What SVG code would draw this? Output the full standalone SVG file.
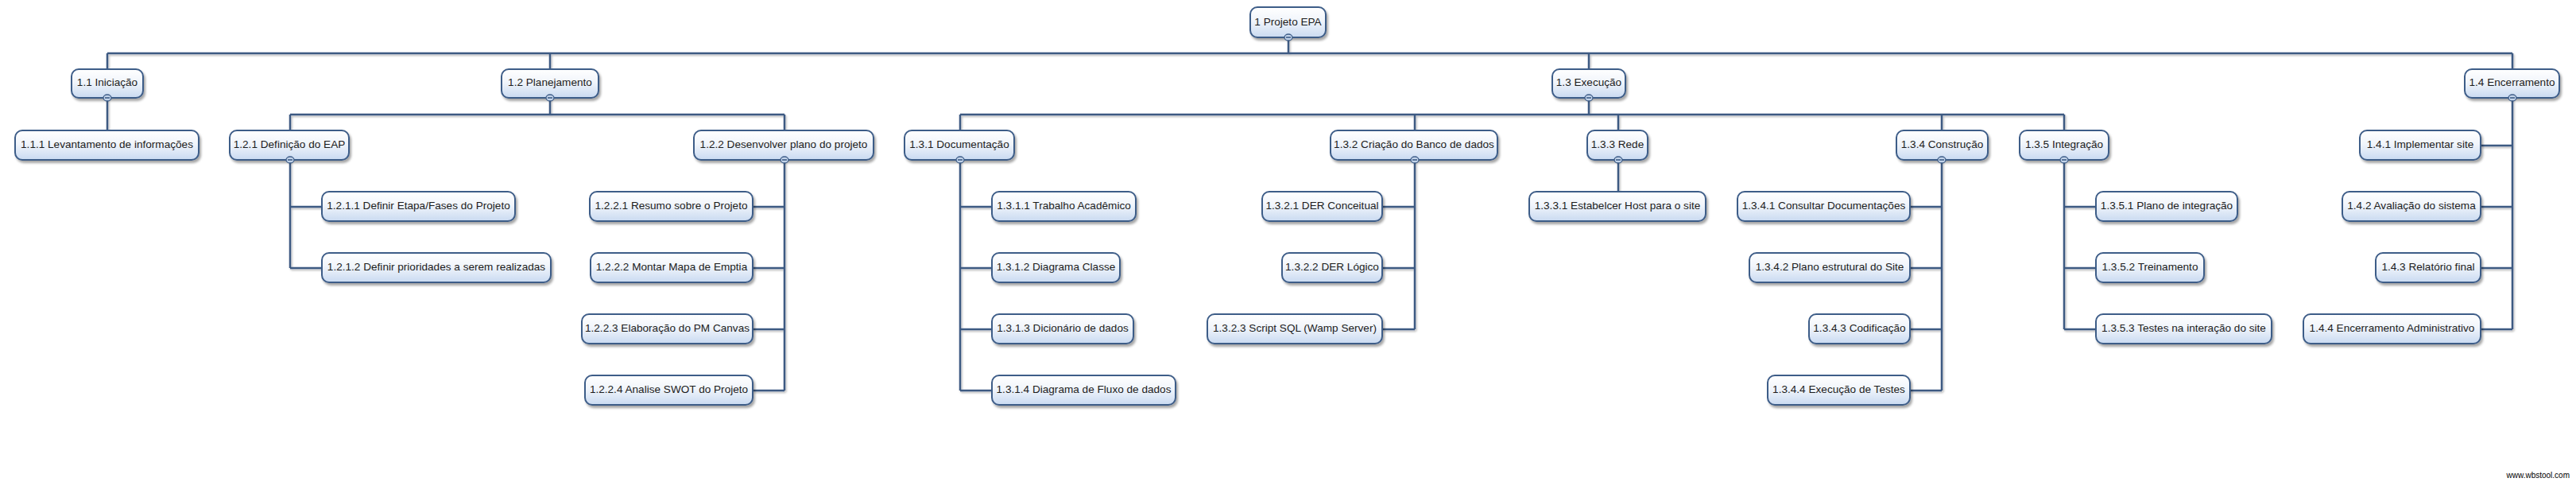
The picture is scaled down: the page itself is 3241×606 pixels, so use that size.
<svg xmlns="http://www.w3.org/2000/svg" width="3241" height="606" viewBox="0 0 3241 606">
<defs>
<linearGradient id="g" x1="0" y1="0" x2="0" y2="1">
<stop offset="0" stop-color="#ffffff"/>
<stop offset="0.45" stop-color="#f1f5fb"/>
<stop offset="1" stop-color="#c9daf1"/>
</linearGradient>
<filter id="sh" x="-10%" y="-30%" width="120%" height="170%">
<feDropShadow dx="2" dy="3" stdDeviation="1.5" flood-color="#000" flood-opacity="0.35"/>
</filter>
<filter id="lsh" x="-5%" y="-5%" width="110%" height="110%">
<feDropShadow dx="1.5" dy="2" stdDeviation="1" flood-color="#000" flood-opacity="0.25"/>
</filter>
</defs>
<style>
rect.b{fill:url(#g);stroke:#3e5d88;stroke-width:2;filter:url(#sh)}
text.t{font-family:"Liberation Sans",Arial,sans-serif;font-size:13.6px;fill:#1c1c1c;text-anchor:middle}
.c path{stroke:#3d5a82;stroke-width:2.5;fill:none}
ellipse.k{fill:#c3d4ea;stroke:#3e5d88;stroke-width:1.3}
path.m{stroke:#3e5d88;stroke-width:1.6}
text.w{font-family:"Liberation Sans",Arial,sans-serif;font-size:10px;fill:#000;text-anchor:end}
</style>
<rect width="3241" height="606" fill="#ffffff"/>
<g id="connectors" class="c" filter="url(#lsh)">
<path d="M1621 47V67M135 67H3161M135 67V87M692 67V87M1999 67V87M3161 67V87"/>
<path d="M135 123V164"/>
<path d="M692 123V144M365 144H987M365 144V164M987 144V164"/>
<path d="M365 201V337M365 260H405M365 337H405"/>
<path d="M987 201V491M947 260H987M947 337H987M947 414H987M947 491H987"/>
<path d="M1999 123V144M1208 144H2597M1208 144V164M1780 144V164M2036 144V164M2443 144V164M2597 144V164"/>
<path d="M1208 201V491M1208 260H1248M1208 337H1248M1208 414H1248M1208 491H1248"/>
<path d="M1780 201V414M1739 260H1780M1739 337H1780M1739 414H1780"/>
<path d="M2036 201V241"/>
<path d="M2443 201V491M2403 260H2443M2403 337H2443M2403 414H2443M2403 491H2443"/>
<path d="M2597 201V414M2597 260H2637M2597 337H2637M2597 414H2637"/>
<path d="M3161 123V414M3121 183H3161M3121 260H3161M3121 337H3161M3121 414H3161"/>
</g>
<g id="n1"><rect class="b" x="1573" y="9" width="95" height="38" rx="9"/><text class="t" x="1620.5" y="32">1 Projeto EPA</text><ellipse class="k" cx="1621" cy="47" rx="5" ry="4"/><path class="m" d="M1618 47H1624"/></g>
<g id="n1-1"><rect class="b" x="90" y="87" width="90" height="36" rx="9"/><text class="t" x="135" y="108">1.1 Iniciação</text><ellipse class="k" cx="135" cy="123" rx="5" ry="4"/><path class="m" d="M132 123H138"/></g>
<g id="n1-2"><rect class="b" x="631" y="87" width="122" height="36" rx="9"/><text class="t" x="692" y="108">1.2 Planejamento</text><ellipse class="k" cx="692" cy="123" rx="5" ry="4"/><path class="m" d="M689 123H695"/></g>
<g id="n1-3"><rect class="b" x="1953" y="87" width="92" height="36" rx="9"/><text class="t" x="1999" y="108">1.3 Execução</text><ellipse class="k" cx="1999" cy="123" rx="5" ry="4"/><path class="m" d="M1996 123H2002"/></g>
<g id="n1-4"><rect class="b" x="3101" y="87" width="119" height="36" rx="9"/><text class="t" x="3160.5" y="108">1.4 Encerramento</text><ellipse class="k" cx="3161" cy="123" rx="5" ry="4"/><path class="m" d="M3158 123H3164"/></g>
<g id="n1-1-1"><rect class="b" x="19" y="164" width="231" height="37" rx="9"/><text class="t" x="134.5" y="186">1.1.1 Levantamento de informações</text></g>
<g id="n1-2-1"><rect class="b" x="289" y="164" width="150" height="37" rx="9"/><text class="t" x="364" y="186">1.2.1 Definição do EAP</text><ellipse class="k" cx="365" cy="201" rx="5" ry="4"/><path class="m" d="M362 201H368"/></g>
<g id="n1-2-2"><rect class="b" x="873" y="164" width="226" height="37" rx="9"/><text class="t" x="986" y="186">1.2.2 Desenvolver plano do projeto</text><ellipse class="k" cx="987" cy="201" rx="5" ry="4"/><path class="m" d="M984 201H990"/></g>
<g id="n1-2-1-1"><rect class="b" x="405" y="241" width="243" height="37" rx="9"/><text class="t" x="526.5" y="263">1.2.1.1 Definir Etapa/Fases do Projeto</text></g>
<g id="n1-2-1-2"><rect class="b" x="405" y="318" width="288" height="37" rx="9"/><text class="t" x="549" y="340">1.2.1.2 Definir prioridades a serem realizadas</text></g>
<g id="n1-2-2-1"><rect class="b" x="742" y="241" width="205" height="37" rx="9"/><text class="t" x="844.5" y="263">1.2.2.1 Resumo sobre o Projeto</text></g>
<g id="n1-2-2-2"><rect class="b" x="743" y="318" width="204" height="37" rx="9"/><text class="t" x="845" y="340">1.2.2.2 Montar Mapa de Emptia</text></g>
<g id="n1-2-2-3"><rect class="b" x="732" y="395" width="215" height="37" rx="9"/><text class="t" x="839.5" y="417">1.2.2.3 Elaboração do PM Canvas</text></g>
<g id="n1-2-2-4"><rect class="b" x="736" y="472" width="211" height="37" rx="9"/><text class="t" x="841.5" y="494">1.2.2.4 Analise SWOT do Projeto</text></g>
<g id="n1-3-1"><rect class="b" x="1138" y="164" width="138" height="37" rx="9"/><text class="t" x="1207" y="186">1.3.1 Documentação</text><ellipse class="k" cx="1208" cy="201" rx="5" ry="4"/><path class="m" d="M1205 201H1211"/></g>
<g id="n1-3-1-1"><rect class="b" x="1248" y="241" width="181" height="37" rx="9"/><text class="t" x="1338.5" y="263">1.3.1.1 Trabalho Acadêmico</text></g>
<g id="n1-3-1-2"><rect class="b" x="1248" y="318" width="161" height="37" rx="9"/><text class="t" x="1328.5" y="340">1.3.1.2 Diagrama Classe</text></g>
<g id="n1-3-1-3"><rect class="b" x="1248" y="395" width="178" height="37" rx="9"/><text class="t" x="1337" y="417">1.3.1.3 Dicionário de dados</text></g>
<g id="n1-3-1-4"><rect class="b" x="1248" y="472" width="231" height="37" rx="9"/><text class="t" x="1363.5" y="494">1.3.1.4 Diagrama de Fluxo de dados</text></g>
<g id="n1-3-2"><rect class="b" x="1674" y="164" width="210" height="37" rx="9"/><text class="t" x="1779" y="186">1.3.2 Criação do Banco de dados</text><ellipse class="k" cx="1780" cy="201" rx="5" ry="4"/><path class="m" d="M1777 201H1783"/></g>
<g id="n1-3-2-1"><rect class="b" x="1588" y="241" width="151" height="37" rx="9"/><text class="t" x="1663.5" y="263">1.3.2.1 DER Conceitual</text></g>
<g id="n1-3-2-2"><rect class="b" x="1613" y="318" width="126" height="37" rx="9"/><text class="t" x="1676" y="340">1.3.2.2 DER Lógico</text></g>
<g id="n1-3-2-3"><rect class="b" x="1519" y="395" width="220" height="37" rx="9"/><text class="t" x="1629" y="417">1.3.2.3 Script SQL (Wamp Server)</text></g>
<g id="n1-3-3"><rect class="b" x="1997" y="164" width="76" height="37" rx="9"/><text class="t" x="2035" y="186">1.3.3 Rede</text><ellipse class="k" cx="2036" cy="201" rx="5" ry="4"/><path class="m" d="M2033 201H2039"/></g>
<g id="n1-3-3-1"><rect class="b" x="1924" y="241" width="222" height="37" rx="9"/><text class="t" x="2035" y="263">1.3.3.1 Estabelcer Host para o site</text></g>
<g id="n1-3-4"><rect class="b" x="2386" y="164" width="115" height="37" rx="9"/><text class="t" x="2443.5" y="186">1.3.4 Construção</text><ellipse class="k" cx="2443" cy="201" rx="5" ry="4"/><path class="m" d="M2440 201H2446"/></g>
<g id="n1-3-4-1"><rect class="b" x="2186" y="241" width="217" height="37" rx="9"/><text class="t" x="2294.5" y="263">1.3.4.1 Consultar Documentações</text></g>
<g id="n1-3-4-2"><rect class="b" x="2201" y="318" width="202" height="37" rx="9"/><text class="t" x="2302" y="340">1.3.4.2 Plano estrutural do Site</text></g>
<g id="n1-3-4-3"><rect class="b" x="2276" y="395" width="127" height="37" rx="9"/><text class="t" x="2339.5" y="417">1.3.4.3 Codificação</text></g>
<g id="n1-3-4-4"><rect class="b" x="2224" y="472" width="179" height="37" rx="9"/><text class="t" x="2313.5" y="494">1.3.4.4 Execução de Testes</text></g>
<g id="n1-3-5"><rect class="b" x="2541" y="164" width="112" height="37" rx="9"/><text class="t" x="2597" y="186">1.3.5 Integração</text><ellipse class="k" cx="2597" cy="201" rx="5" ry="4"/><path class="m" d="M2594 201H2600"/></g>
<g id="n1-3-5-1"><rect class="b" x="2637" y="241" width="178" height="37" rx="9"/><text class="t" x="2726" y="263">1.3.5.1 Plano de integração</text></g>
<g id="n1-3-5-2"><rect class="b" x="2637" y="318" width="136" height="37" rx="9"/><text class="t" x="2705" y="340">1.3.5.2 Treinamento</text></g>
<g id="n1-3-5-3"><rect class="b" x="2637" y="395" width="221" height="37" rx="9"/><text class="t" x="2747.5" y="417">1.3.5.3 Testes na interação do site</text></g>
<g id="n1-4-1"><rect class="b" x="2969" y="164" width="152" height="37" rx="9"/><text class="t" x="3045" y="186">1.4.1 Implementar site</text></g>
<g id="n1-4-2"><rect class="b" x="2947" y="241" width="174" height="37" rx="9"/><text class="t" x="3034" y="263">1.4.2 Avaliação do sistema</text></g>
<g id="n1-4-3"><rect class="b" x="2989" y="318" width="132" height="37" rx="9"/><text class="t" x="3055" y="340">1.4.3 Relatório final</text></g>
<g id="n1-4-4"><rect class="b" x="2898" y="395" width="223" height="37" rx="9"/><text class="t" x="3009.5" y="417">1.4.4 Encerramento Administrativo</text></g>
<text class="w" x="3233" y="601">www.wbstool.com</text>
</svg>
